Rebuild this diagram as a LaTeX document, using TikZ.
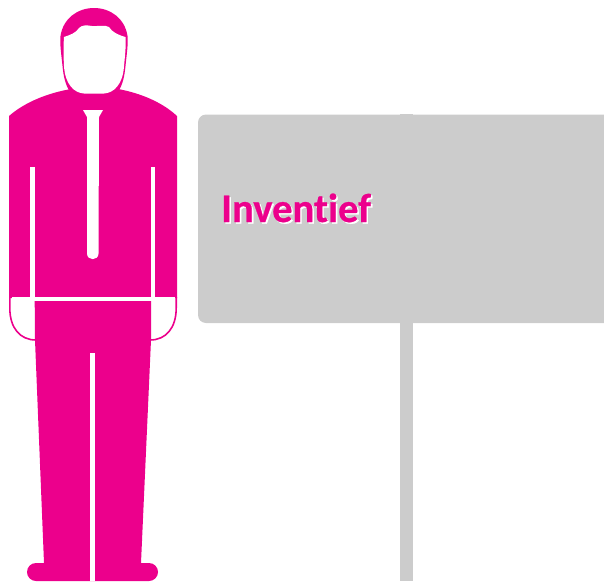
\documentclass[tikz,border=0pt]{standalone}
\usepackage{fontspec}
\setmainfont[BoldFeatures={FakeBold=0.6}]{Carlito}
\definecolor{pinkc}{HTML}{EC008C}
\definecolor{greyc}{HTML}{CCCCCC}
\tikzset{
  pinkfill/.style={fill=pinkc,draw=none},
  whitefill/.style={fill=white,draw=none},
  greyfill/.style={fill=greyc,draw=none},
  handline/.style={draw=pinkc,line width=1.6pt,fill=white},
  labeltext/.style={font=\fontsize{40.6}{48}\selectfont\bfseries,inner sep=0pt,anchor=base west}
}
\begin{document}
\begin{tikzpicture}[x=1pt,y=-1pt]
\useasboundingbox (0,0) rectangle (604,581);
\clip (0,0) rectangle (604,581);
% sign post and board
\fill[greyfill] (400,114) rectangle (413,581);
\fill[greyfill] (604,114.5) -- (206,114.5) .. controls (201.6,114.5) and (198,118.1) .. (198,122.5)
  -- (198,315) .. controls (198,319.4) and (201.6,323) .. (206,323) -- (604,323) -- cycle;
% text
\node[labeltext,text=white] (labelshadow) at (222.6,223.6) {Invent\kern0pt ief};
\node[labeltext,text=pinkc] (label) at (221,222) {Invent\kern0pt ief};
% hands
\draw[handline] (9.8,297) -- (9.8,308) .. controls (9.8,328) and (20,340) .. (36,340) -- (150,340)
  .. controls (166,340) and (176.2,328) .. (176.2,308) -- (176.2,297);
% head
\fill[pinkfill] (70,92) .. controls (65,84) and (63.5,76) .. (62.5,66)
  .. controls (61,52) and (59.8,44) .. (60.5,36)
  .. controls (63,19) and (77,8) .. (94,8)
  .. controls (111,8) and (125,19) .. (127.5,36)
  .. controls (128.2,44) and (127,52) .. (125.5,66)
  .. controls (124.5,76) and (123,84) .. (118,92) -- cycle;
% torso and arms
\fill[pinkfill] (9,116) .. controls (25,102) and (48,93) .. (71,89) -- (118,89)
  .. controls (140,93) and (162,102) .. (177,116) -- (177,298) -- (9,298) -- cycle;
% face
\fill[whitefill] (64,37) .. controls (70,35) and (76,33) .. (79,28)
  .. controls (82,25) and (86,25) .. (92,26) .. controls (98,26.5) and (105,24.5) .. (109,27)
  .. controls (112,32) and (118,35) .. (125.5,37)
  .. controls (126.2,45) and (125,56) .. (124,66)
  .. controls (123,84) and (114,93) .. (104,93.5) -- (84,93.5)
  .. controls (74,93) and (65,84) .. (64,66)
  .. controls (63.4,56) and (63.4,45) .. (64,37) -- cycle;
% tie
\fill[whitefill] (83,110) -- (103,110) -- (99,117) -- (98.5,253.5)
  .. controls (98.5,261) and (87,261) .. (87,253.5) -- (87,117) -- cycle;
% arm lines
\fill[whitefill] (30,167) rectangle (34.7,298);
\fill[whitefill] (151,167) rectangle (155.3,298);
\fill[whitefill] (11.5,297) rectangle (174.5,301);
\fill[whitefill] (11.5,301) .. controls (12,326) and (22,338) .. (36,338.5) -- (150,338.5)
  .. controls (164,338) and (174,326) .. (174.5,301) -- cycle;
% legs
\fill[pinkfill] (34.7,301) -- (151,301) -- (151,340) -- (141,563) -- (149,563)
  .. controls (154,563) and (158,567) .. (158,572) .. controls (158,577) and (154,581) .. (149,581)
  -- (36,581) .. controls (31,581) and (27,577) .. (27,572) .. controls (27,567) and (31,563) .. (36,563)
  -- (44,563) -- (35,340) -- cycle;
\fill[whitefill] (90,353) rectangle (94.7,581);
\end{tikzpicture}
\end{document}
